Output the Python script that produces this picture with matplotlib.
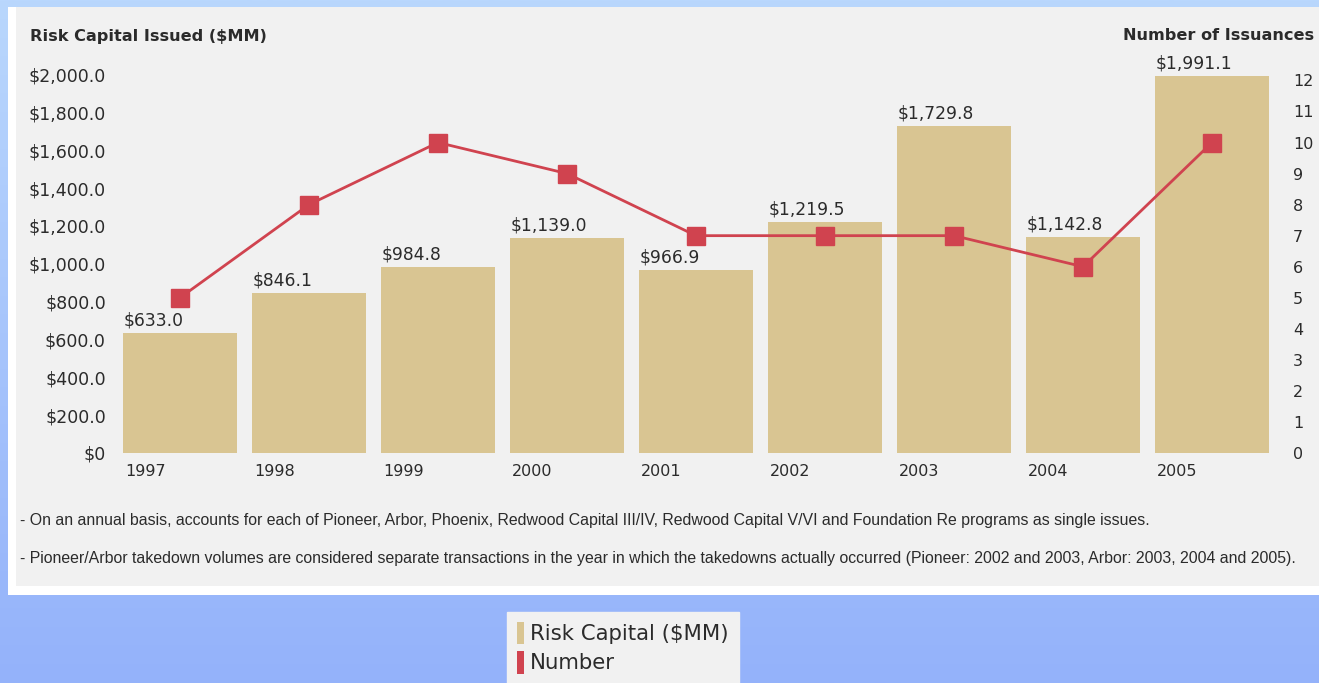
import numpy as np
import matplotlib
matplotlib.use("Agg")
import matplotlib.pyplot as plt
from matplotlib.patches import Rectangle, Patch

plt.rcParams["font.family"] = ["DejaVu Sans"]

years = ["1997", "1998", "1999", "2000", "2001", "2002", "2003", "2004", "2005"]
risk_capital = [633.0, 846.1, 984.8, 1139.0, 966.9, 1219.5, 1729.8, 1142.8, 1991.1]
issuances = [5, 8, 10, 9, 7, 7, 7, 6, 10]
left_ticks = [0, 200, 400, 600, 800, 1000, 1200, 1400, 1600, 1800, 2000]
right_ticks = list(range(0, 13))
notes = [
    "- On an annual basis, accounts for each of Pioneer, Arbor, Phoenix, Redwood Capital III/IV, "
    "Redwood Capital V/VI and Foundation Re programs as single issues.",
    "- Pioneer/Arbor takedown volumes are considered separate transactions in the year in which the "
    "takedowns actually occurred (Pioneer: 2002 and 2003, Arbor: 2003, 2004 and 2005).",
]

TAN = "#d9c592"
RED = "#d0434f"
PANEL = "#f1f1f1"
TEXT = "#2b2b2b"

W, H = 1319, 683
fig = plt.figure(figsize=(W / 100, H / 100), dpi=100)

# page background: blue gradient, white frame, grey panel (pixel coordinates)
bg = fig.add_axes([0, 0, 1, 1])
bg.set_xlim(0, W)
bg.set_ylim(H, 0)
bg.axis("off")
grad = np.linspace(0, 1, 256).reshape(-1, 1)
top_c = np.array([185, 215, 253]) / 255
bot_c = np.array([148, 178, 250]) / 255
img = top_c + (bot_c - top_c) * grad[..., None]
bg.imshow(img, extent=[0, W, H, 0], aspect="auto", zorder=0)
bg.add_patch(Rectangle((8, 7), W - 8, 588, facecolor="white", edgecolor="none", zorder=1))
bg.add_patch(Rectangle((16, 7), W - 16, 579, facecolor=PANEL, edgecolor="none", zorder=2))

bg.text(30, 36, "Risk Capital Issued ($MM)", fontsize=11.6, fontweight="bold",
        color=TEXT, ha="left", va="center", zorder=3)
bg.text(1314, 36, "Number of Issuances", fontsize=11.6, fontweight="bold",
        color=TEXT, ha="right", va="center", zorder=3)
for y, note in zip([521, 559], notes):
    bg.text(20, y, note, fontsize=11.4, color=TEXT, ha="left", va="center",
            zorder=3, family=["Liberation Sans", "DejaVu Sans"])

# main chart
ax = fig.add_axes([115.5 / W, 1 - 453 / H, 1161 / W, 385 / H])
ax.patch.set_alpha(0)
x = np.arange(len(years))
bw = 0.89
ax.bar(x, risk_capital, width=bw, color=TAN, zorder=2)
ax.set_xlim(-0.5, len(years) - 0.5)
ax.set_ylim(0, 2035)
for s in ax.spines.values():
    s.set_visible(False)

ax.set_yticks(left_ticks)
ax.set_yticklabels(["$0" if v == 0 else "${:,.1f}".format(v) for v in left_ticks])
ax.set_xticks(x - bw / 2 + 0.02)
ax.set_xticklabels(years, ha="left")
ax.tick_params(axis="y", length=0, pad=7, labelsize=12.5, labelcolor=TEXT)
ax.tick_params(axis="x", length=0, pad=8, labelsize=11.5, labelcolor=TEXT)

for xi, v in zip(x, risk_capital):
    ax.annotate("${:,.1f}".format(v), (xi - bw / 2, v), xytext=(1, 2.5),
                textcoords="offset points", ha="left", va="bottom",
                fontsize=12.3, color=TEXT)

ax2 = ax.twinx()
ax2.set_ylim(0, 12.4)
ax2.set_yticks(right_ticks)
ax2.tick_params(axis="y", length=0, pad=12, labelsize=11.5, labelcolor=TEXT)
for s in ax2.spines.values():
    s.set_visible(False)
ax2.plot(x, issuances, color=RED, lw=2, marker="s", markersize=13.5,
         markerfacecolor=RED, markeredgecolor=RED, markeredgewidth=1, zorder=3)

handles = [Patch(facecolor=TAN, edgecolor="none"), Patch(facecolor=RED, edgecolor="none")]
leg = fig.legend(handles, ["Risk Capital ($MM)", "Number"], loc="upper left",
                 bbox_to_anchor=(507 / W, 1 - 612 / H), borderaxespad=0,
                 frameon=True, fancybox=False, facecolor=PANEL, edgecolor=PANEL,
                 framealpha=1, handlelength=0.35, handleheight=1.25, handletextpad=0.3,
                 labelspacing=0.33, borderpad=0.45, fontsize=15.3)
for t in leg.get_texts():
    t.set_color(TEXT)

fig.savefig("out.png", dpi=100)
